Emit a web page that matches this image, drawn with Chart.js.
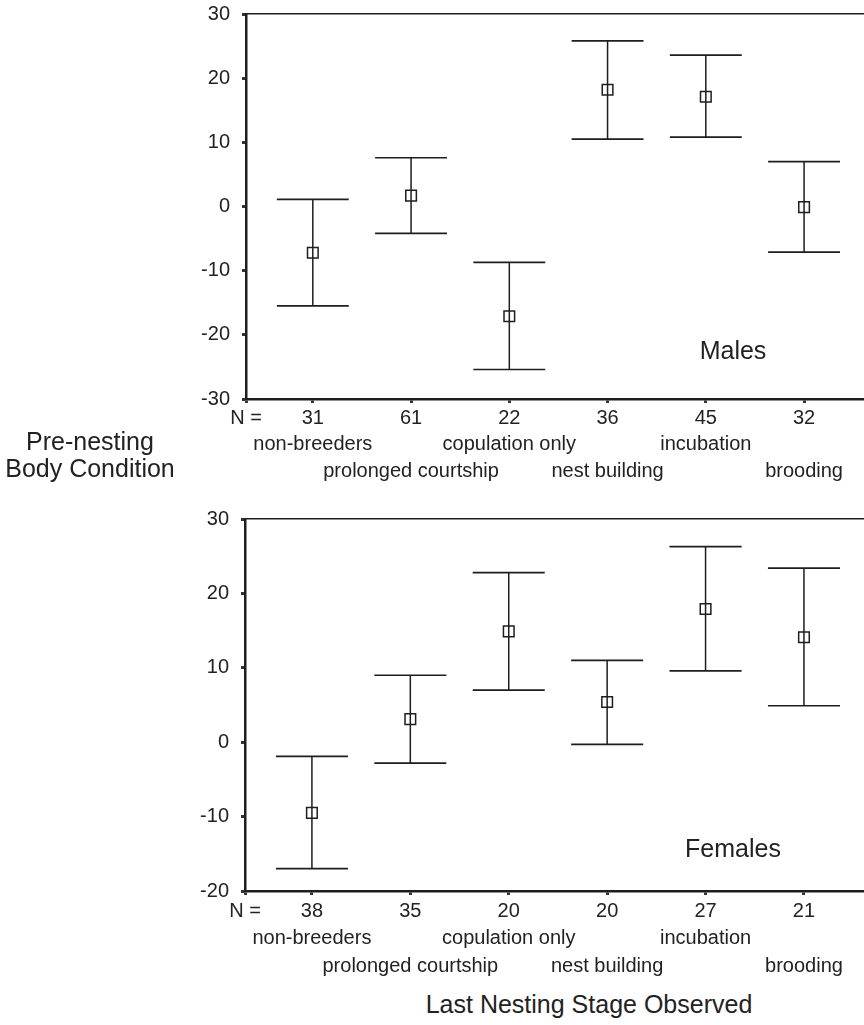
<!DOCTYPE html>
<html lang="en">
<head>
    <meta charset="UTF-8">
    <title>Pre-nesting Body Condition by Last Nesting Stage</title>
    <script src="https://cdn.jsdelivr.net/npm/chart.js"></script>
    <style>
        body {
            margin: 0;
            background: white;
            font-family: "Liberation Sans", Arial, sans-serif;
            color: #222;
        }
        .page {
            position: relative;
            width: 864px;
            height: 1025px;
            overflow: hidden;
        }
        .box {
            position: absolute;
            left: 0;
            width: 873px; /* plot frame runs past the right edge of the page, as in the figure */
        }
        .label {
            position: absolute;
            font-size: 25px;
            white-space: nowrap;
            transform: translate(-50%, -50%);
            text-align: center;
        }
    </style>
</head>
<body>
<div class="page">
    <div class="box" style="top:0;height:490px"><canvas id="malesChart"></canvas></div>
    <div class="box" style="top:490px;height:490px"><canvas id="femalesChart"></canvas></div>
    <div class="label" style="left:733px;top:350px">Males</div>
    <div class="label" style="left:733px;top:848px">Females</div>
    <div class="label" style="left:90px;top:455px;line-height:27px">Pre-nesting<br>Body Condition</div>
    <div class="label" style="left:589px;top:1004px">Last Nesting Stage Observed</div>
</div>
<script>
    // categories (last nesting stage)
    const stages = ["non-breeders", "prolonged courtship", "copulation only", "nest building", "incubation", "brooding"];

    // males: sample sizes, means and error bar ends
    const maleN = [31, 61, 22, 36, 45, 32];
    const maleMean = [-7.2, 1.7, -17.1, 18.2, 17.1, -0.1];
    const maleUpper = [1.1, 7.6, -8.7, 25.8, 23.6, 7.0];
    const maleLower = [-15.5, -4.2, -25.4, 10.5, 10.8, -7.1];
    const maleTicks = [30, 20, 10, 0, -10, -20, -30];

    // females
    const femaleN = [38, 35, 20, 20, 27, 21];
    const femaleMean = [-9.5, 3.1, 14.9, 5.4, 17.9, 14.1];
    const femaleUpper = [-1.9, 9.0, 22.8, 11.0, 26.3, 23.4];
    const femaleLower = [-17.0, -2.8, 7.0, -0.3, 9.6, 4.9];
    const femaleTicks = [30, 20, 10, 0, -10, -20];

    const X_MIN = 0.32, X_MAX = 6.61;
    const CAP = 0.366; // half width of the error bar caps, in category units
    const INK = "#1e1e1e";
    const FONT = "'Liberation Sans', Arial, sans-serif";

    function buildDatasets(mean, upper, lower) {
        const whiskers = [];
        const caps = [];
        const points = [];
        mean.forEach((m, i) => {
            const x = i + 1;
            whiskers.push({x: x, y: lower[i]}, {x: x, y: upper[i]}, {x: x, y: null});
            caps.push({x: x - CAP, y: upper[i]}, {x: x + CAP, y: upper[i]}, {x: x, y: null});
            caps.push({x: x - CAP, y: lower[i]}, {x: x + CAP, y: lower[i]}, {x: x, y: null});
            points.push({x: x, y: m});
        });
        return [
            {
                data: points,
                pointStyle: "rect",
                pointRadius: 7.5,
                pointHoverRadius: 7.5,
                backgroundColor: "rgba(0,0,0,0)",
                borderColor: INK,
                borderWidth: 1.5
            },
            {
                data: caps,
                showLine: true,
                spanGaps: false,
                pointRadius: 0,
                pointHoverRadius: 0,
                borderColor: INK,
                borderWidth: 1.7
            },
            {
                data: whiskers,
                showLine: true,
                spanGaps: false,
                pointRadius: 0,
                pointHoverRadius: 0,
                borderColor: INK,
                borderWidth: 1.5
            }
        ];
    }

    function makeChart(id, nValues, mean, upper, lower, yTicks, opts) {
        const ctx = document.getElementById(id).getContext("2d");
        return new Chart(ctx, {
            type: "scatter",
            data: { datasets: buildDatasets(mean, upper, lower) },
            options: {
                responsive: true,
                maintainAspectRatio: false,
                animation: false,
                events: [],
                layout: { padding: { top: opts.top, right: 0, bottom: 0, left: 0 } },
                plugins: { legend: { display: false }, tooltip: { enabled: false } },
                scales: {
                    x: {
                        type: "linear",
                        min: X_MIN,
                        max: X_MAX,
                        afterBuildTicks: (axis) => {
                            axis.ticks = [X_MIN].concat(stages.map((s, i) => i + 1)).map(v => ({value: v}));
                        },
                        afterFit: (axis) => { axis.height = opts.xHeight; },
                        border: { display: true, color: INK, width: 2.5 },
                        grid: { display: true, drawOnChartArea: false, drawTicks: true, tickLength: 4, tickWidth: 3, tickColor: "#333" },
                        ticks: {
                            autoSkip: false,
                            maxRotation: 0,
                            padding: opts.xPad,
                            color: "#222",
                            font: { family: FONT, size: 20, lineHeight: opts.lh },
                            callback: (value) => {
                                if (value === X_MIN) return ["N =", "", ""];
                                const i = Math.round(value) - 1;
                                return [String(nValues[i]), i % 2 === 0 ? stages[i] : "", i % 2 === 1 ? stages[i] : ""];
                            }
                        }
                    },
                    xTop: {
                        type: "linear",
                        position: "top",
                        min: X_MIN,
                        max: X_MAX,
                        afterFit: (axis) => { axis.height = 0; },
                        border: { display: true, color: INK, width: 1.5 },
                        grid: { display: false },
                        ticks: { display: false }
                    },
                    y: {
                        min: yTicks[yTicks.length - 1],
                        max: yTicks[0],
                        afterBuildTicks: (axis) => {
                            axis.ticks = yTicks.map(v => ({value: v}));
                        },
                        afterFit: (axis) => {
                            axis.width = opts.left;
                            axis.paddingTop = 0;
                            axis.paddingBottom = 0;
                        },
                        border: { display: true, color: INK, width: 2.5 },
                        grid: { display: true, drawOnChartArea: false, drawTicks: true, tickLength: 4, tickWidth: 3, tickColor: "#333" },
                        ticks: {
                            padding: 12,
                            color: "#222",
                            font: { family: FONT, size: 20 }
                        }
                    }
                }
            }
        });
    }

    makeChart("malesChart", maleN, maleMean, maleUpper, maleLower, maleTicks,
        { top: 14, left: 246, xHeight: 91, xPad: 2, lh: 1.32 });
    makeChart("femalesChart", femaleN, femaleMean, femaleUpper, femaleLower, femaleTicks,
        { top: 29, left: 245, xHeight: 89, xPad: 3, lh: 1.36 });
</script>
</body>
</html>
